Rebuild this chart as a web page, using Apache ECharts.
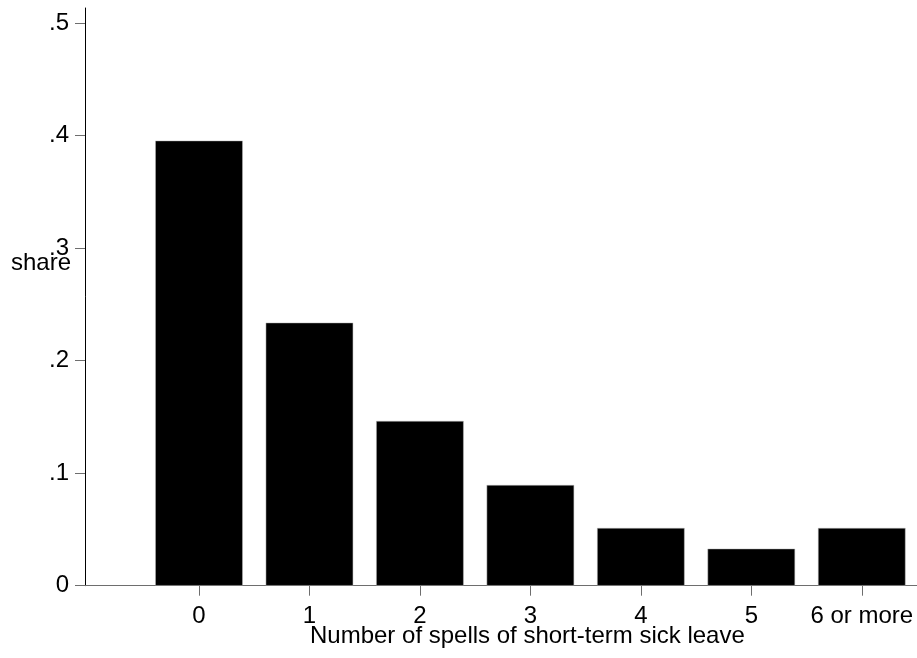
<!DOCTYPE html>
<html>
<head>
<meta charset="utf-8">
<script src="https://cdn.jsdelivr.net/npm/echarts@6/dist/echarts.min.js"></script>
<style>
html,body{margin:0;padding:0;background:#fff;}
#chart{width:917px;height:658px;}
</style>
</head>
<body>
<div id="chart"></div>
<script>
const categories = ['0', '1', '2', '3', '4', '5', '6 or more'];
const shares = [0.3956, 0.2338, 0.1464, 0.0895, 0.0513, 0.0329, 0.0513];
const yTicks = [0, 0.1, 0.2, 0.3, 0.4, 0.5];
const yTickLabels = ['0', '.1', '.2', '.3', '.4', '.5'];
const xPositions = categories.map((c, i) => i);

const FONT = 'Liberation Sans, Arial, sans-serif';
const FS = 24;
const chart = echarts.init(document.getElementById('chart'), null, {renderer: 'canvas'});
chart.setOption({
  animation: false,
  backgroundColor: '#fff',
  grid: {left: 85, right: 0, top: 8, bottom: 72.3, containLabel: false},
  xAxis: {
    type: 'value',
    min: -1.032,
    max: 6.5,
    splitLine: {show: false},
    axisLine: {show: true, onZero: false, lineStyle: {color: '#6e6e6e', width: 1}},
    axisTick: {show: true, length: 10, lineStyle: {color: '#6e6e6e'}, customValues: xPositions},
    axisLabel: {
      customValues: xPositions,
      margin: 19,
      color: '#000',
      fontSize: FS,
      fontFamily: FONT,
      formatter: v => categories[Math.round(v)] ?? ''
    }
  },
  yAxis: {
    type: 'value',
    min: 0,
    max: 0.5135,
    splitLine: {show: false},
    axisLine: {show: true, onZero: false, lineStyle: {color: '#000', width: 1}},
    axisTick: {show: true, length: 10, lineStyle: {color: '#6e6e6e'}, customValues: yTicks},
    axisLabel: {
      customValues: yTicks,
      margin: 16,
      color: '#000',
      fontSize: FS,
      fontFamily: FONT,
      formatter: v => {
        const i = yTicks.findIndex(t => Math.abs(t - v) < 1e-9);
        return i >= 0 ? yTickLabels[i] : '';
      }
    }
  },
  graphic: [
    {type: 'text', left: 11, top: 251, style: {text: 'share', fontSize: FS, fontFamily: FONT, fill: '#000'}},
    {type: 'text', left: 310, top: 624, style: {text: 'Number of spells of short-term sick leave', fontSize: FS, fontFamily: FONT, fill: '#000'}}
  ],
  series: [{
    type: 'bar',
    barWidth: 87.5,
    itemStyle: {color: '#000', borderColor: '#bbb', borderWidth: 0.5},
    data: xPositions.map((x, i) => [x, shares[i]])
  }]
});
</script>
</body>
</html>
